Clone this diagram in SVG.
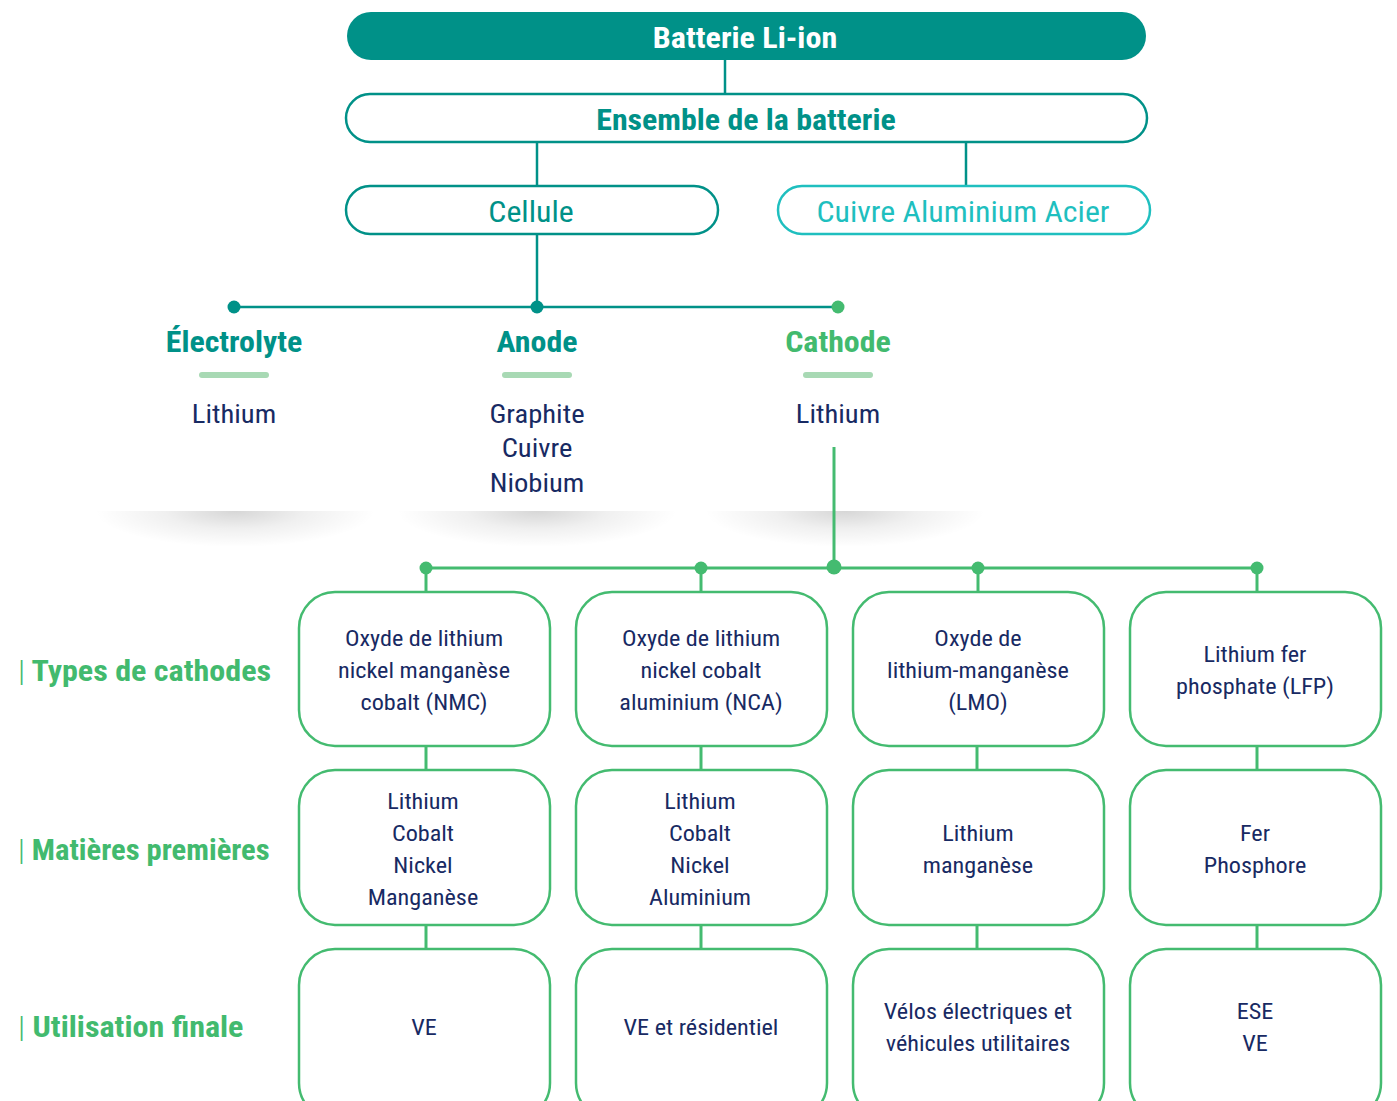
<svg xmlns="http://www.w3.org/2000/svg" width="1397" height="1101" viewBox="0 0 1397 1101">
<defs>
<radialGradient id="shd" cx="0.5" cy="0.5" r="0.5">
<stop offset="0" stop-color="#000" stop-opacity="0.16"/>
<stop offset="0.5" stop-color="#000" stop-opacity="0.06"/>
<stop offset="1" stop-color="#000" stop-opacity="0"/>
</radialGradient>
<clipPath id="below"><rect x="0" y="511" width="1397" height="60"/></clipPath>
<style>
text{font-family:Roboto,"Liberation Sans",sans-serif;font-stretch:condensed;text-anchor:middle;transform-box:fill-box;transform-origin:50% 50%;transform:scaleX(1.1)}
.teal{fill:#009188}
.turq{fill:#1fbfbf}
.green{fill:#42ba6e}
.navy{fill:#182a63}
.b{font-weight:700}
.pill{fill:#fff;stroke-width:2.5}
.box{fill:#fff;stroke:#44bb70;stroke-width:2.5}
.lt{stroke:#009188;stroke-width:2.5;fill:none}
.lg{stroke:#44bb70;stroke-width:3;fill:none}
.bt{font-size:22px}
text.lbl{font-size:30px;font-weight:700;text-anchor:start;fill:#42ba6e;transform-origin:0% 50%;transform:scaleX(1.07)}
text.lbl.mp{transform:scaleX(1.02)}
text.title{transform:scaleX(1.07)}
.bar{font-weight:300}
</style>
</defs>

<g id="shadows" clip-path="url(#below)">
<ellipse cx="235" cy="511" rx="140" ry="36" fill="url(#shd)"/>
<ellipse cx="537" cy="511" rx="140" ry="36" fill="url(#shd)"/>
<ellipse cx="845" cy="511" rx="140" ry="36" fill="url(#shd)"/>
</g>

<g id="connectors">
<line class="lt" x1="725" y1="60" x2="725" y2="94"/>
<line class="lt" x1="537" y1="142" x2="537" y2="186"/>
<line class="lt" x1="966" y1="142" x2="966" y2="186"/>
<line class="lt" x1="537" y1="234" x2="537" y2="307"/>
<line class="lt" x1="234" y1="307" x2="838" y2="307"/>
<circle cx="234" cy="307" r="6.5" fill="#009188"/>
<circle cx="537" cy="307" r="6.5" fill="#009188"/>
<circle cx="838" cy="307" r="6.5" fill="#44bb70"/>
<line class="lg" x1="834" y1="447" x2="834" y2="567"/>
<line class="lg" x1="426" y1="568" x2="1257" y2="568"/>
<circle cx="426" cy="568" r="6.5" fill="#44bb70"/>
<circle cx="701" cy="568" r="6.5" fill="#44bb70"/>
<circle cx="834" cy="567" r="7.5" fill="#44bb70"/>
<circle cx="978" cy="568" r="6.5" fill="#44bb70"/>
<circle cx="1257" cy="568" r="6.5" fill="#44bb70"/>
<line class="lg" x1="426" y1="568" x2="426" y2="592"/>
<line class="lg" x1="701" y1="568" x2="701" y2="592"/>
<line class="lg" x1="978" y1="568" x2="978" y2="592"/>
<line class="lg" x1="1257" y1="568" x2="1257" y2="592"/>
<line class="lg" x1="426" y1="746" x2="426" y2="770"/>
<line class="lg" x1="701" y1="746" x2="701" y2="770"/>
<line class="lg" x1="977" y1="746" x2="977" y2="770"/>
<line class="lg" x1="1257" y1="746" x2="1257" y2="770"/>
<line class="lg" x1="426" y1="925" x2="426" y2="949"/>
<line class="lg" x1="701" y1="925" x2="701" y2="949"/>
<line class="lg" x1="977" y1="925" x2="977" y2="949"/>
<line class="lg" x1="1257" y1="925" x2="1257" y2="949"/>
</g>

<g id="batterie">
<rect x="347" y="12" width="799" height="48" rx="24" fill="#009188"/>
<text x="745" y="48" class="b title" font-size="30" fill="#fff">Batterie Li-ion</text>
</g>
<g id="ensemble">
<rect class="pill" x="346" y="94" width="801" height="48" rx="24" stroke="#009188"/>
<text x="746" y="130" class="b teal" font-size="29">Ensemble de la batterie</text>
</g>
<g id="cellule">
<rect class="pill" x="346" y="186" width="372" height="48" rx="24" stroke="#009188"/>
<text x="531" y="222" class="teal" font-size="29">Cellule</text>
</g>
<g id="cuivre">
<rect class="pill" x="778" y="186" width="372" height="48" rx="24" stroke="#1fbfbf"/>
<text x="963" y="222" class="turq" font-size="29">Cuivre Aluminium Acier</text>
</g>

<g id="electrolyte">
<text x="234" y="352" class="b teal" font-size="29">Électrolyte</text>
<rect x="199" y="372" width="70" height="6" rx="3" fill="#a8d9b4"/>
<text x="234" y="423" class="navy" font-size="26">Lithium</text>
</g>
<g id="anode">
<text x="537" y="352" class="b teal" font-size="29">Anode</text>
<rect x="502" y="372" width="70" height="6" rx="3" fill="#a8d9b4"/>
<text x="537" y="423" class="navy" font-size="26">Graphite</text>
<text x="537" y="457" class="navy" font-size="26">Cuivre</text>
<text x="537" y="492" class="navy" font-size="26">Niobium</text>
</g>
<g id="cathode">
<text x="838" y="352" class="b green" font-size="29">Cathode</text>
<rect x="803" y="372" width="70" height="6" rx="3" fill="#a8d9b4"/>
<text x="838" y="423" class="navy" font-size="26">Lithium</text>
</g>

<g id="labels">
<text x="18" y="681" class="lbl"><tspan class="bar">|</tspan> Types de cathodes</text>
<text x="18" y="860" class="lbl mp"><tspan class="bar">|</tspan> Matières premières</text>
<text x="18" y="1037" class="lbl"><tspan class="bar">|</tspan> Utilisation finale</text>
</g>

<g id="nmc">
<rect class="box" x="299" y="592" width="251" height="154" rx="36"/>
<text class="bt navy" x="424" y="646">Oxyde de lithium</text>
<text class="bt navy" x="424" y="678">nickel manganèse</text>
<text class="bt navy" x="424" y="710">cobalt (NMC)</text>
</g>
<g id="nca">
<rect class="box" x="576" y="592" width="251" height="154" rx="36"/>
<text class="bt navy" x="701" y="646">Oxyde de lithium</text>
<text class="bt navy" x="701" y="678">nickel cobalt</text>
<text class="bt navy" x="701" y="710">aluminium (NCA)</text>
</g>
<g id="lmo">
<rect class="box" x="853" y="592" width="251" height="154" rx="36"/>
<text class="bt navy" x="978" y="646">Oxyde de</text>
<text class="bt navy" x="978" y="678">lithium-manganèse</text>
<text class="bt navy" x="978" y="710">(LMO)</text>
</g>
<g id="lfp">
<rect class="box" x="1130" y="592" width="251" height="154" rx="36"/>
<text class="bt navy" x="1255" y="662">Lithium fer</text>
<text class="bt navy" x="1255" y="694">phosphate (LFP)</text>
</g>

<g id="mp-nmc">
<rect class="box" x="299" y="770" width="251" height="155" rx="36"/>
<text class="bt navy" x="423" y="809">Lithium</text>
<text class="bt navy" x="423" y="841">Cobalt</text>
<text class="bt navy" x="423" y="873">Nickel</text>
<text class="bt navy" x="423" y="905">Manganèse</text>
</g>
<g id="mp-nca">
<rect class="box" x="576" y="770" width="251" height="155" rx="36"/>
<text class="bt navy" x="700" y="809">Lithium</text>
<text class="bt navy" x="700" y="841">Cobalt</text>
<text class="bt navy" x="700" y="873">Nickel</text>
<text class="bt navy" x="700" y="905">Aluminium</text>
</g>
<g id="mp-lmo">
<rect class="box" x="853" y="770" width="251" height="155" rx="36"/>
<text class="bt navy" x="978" y="841">Lithium</text>
<text class="bt navy" x="978" y="873">manganèse</text>
</g>
<g id="mp-lfp">
<rect class="box" x="1130" y="770" width="251" height="155" rx="36"/>
<text class="bt navy" x="1255" y="841">Fer</text>
<text class="bt navy" x="1255" y="873">Phosphore</text>
</g>

<g id="use-nmc">
<rect class="box" x="299" y="949" width="251" height="170" rx="36"/>
<text class="bt navy" x="424" y="1035">VE</text>
</g>
<g id="use-nca">
<rect class="box" x="576" y="949" width="251" height="170" rx="36"/>
<text class="bt navy" x="701" y="1035">VE et résidentiel</text>
</g>
<g id="use-lmo">
<rect class="box" x="853" y="949" width="251" height="170" rx="36"/>
<text class="bt navy" x="978" y="1019">Vélos électriques et</text>
<text class="bt navy" x="978" y="1051">véhicules utilitaires</text>
</g>
<g id="use-lfp">
<rect class="box" x="1130" y="949" width="251" height="170" rx="36"/>
<text class="bt navy" x="1255" y="1019">ESE</text>
<text class="bt navy" x="1255" y="1051">VE</text>
</g>
</svg>
